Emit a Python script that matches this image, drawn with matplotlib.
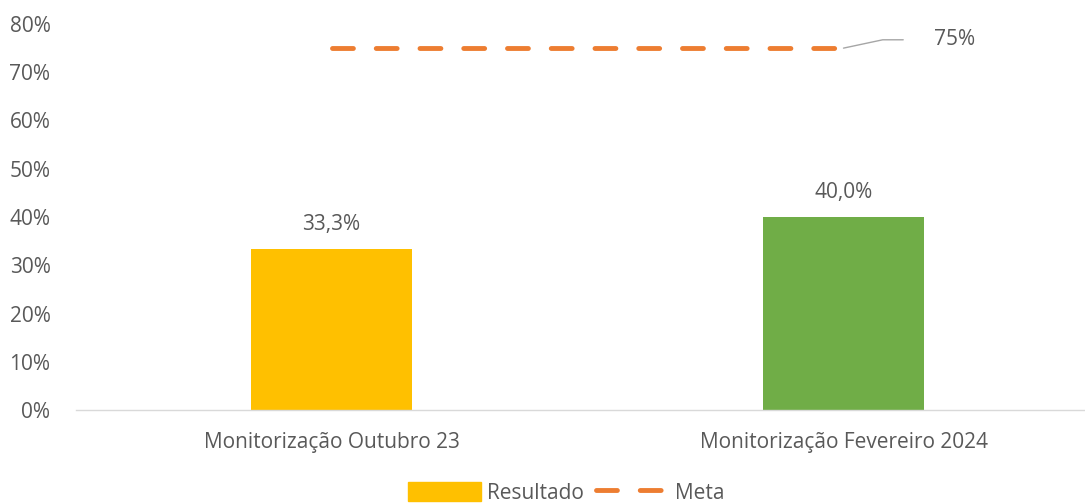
import matplotlib.pyplot as plt
from matplotlib.patches import Patch
from matplotlib.lines import Line2D

categories = ['Monitorização Outubro 23', 'Monitorização Fevereiro 2024']
resultado = [0.333, 0.400]
resultado_labels = ['33,3%', '40,0%']
meta = [0.75, 0.75]
bar_colors = ['#FFC000', '#70AD47']
ticks = [0, 0.1, 0.2, 0.3, 0.4, 0.5, 0.6, 0.7, 0.8]

plt.rcParams['font.family'] = ['Open Sans', 'DejaVu Sans']
txt = '#595959'
fs = 15
dash = (4.3, 4.7)

fig = plt.figure(figsize=(10.85, 5.04), dpi=100)
ax = fig.add_axes([75.5 / 1085, 1 - 410 / 504, 1024 / 1085, (410 - 24) / 504])

x = list(range(len(categories)))
bars = ax.bar(x, resultado, width=0.314, color=bar_colors)
for b, lab in zip(bars, resultado_labels):
    ax.annotate(lab, (b.get_x() + b.get_width() / 2, b.get_height()),
                xytext=(0, 10), textcoords='offset points',
                ha='center', va='bottom', fontsize=fs, color=txt)

ax.plot(x, meta, color='#ED7D31', lw=3.5, dashes=dash,
        dash_capstyle='round')
ax.annotate('75%', (x[-1], meta[-1]), xytext=(65, 6), textcoords='offset points',
            ha='left', va='center', fontsize=fs, color=txt,
            arrowprops=dict(arrowstyle='-', color='#A6A6A6', lw=1,
                            connectionstyle='angle,angleA=0,angleB=12,rad=0',
                            shrinkA=20, shrinkB=0, relpos=(0, 0.5)))

ax.set_xlim(-0.5, 1.5)
ax.set_ylim(0, 0.8)
ax.set_yticks(ticks)
ax.set_yticklabels([f'{int(round(t * 100))}%' for t in ticks])
ax.set_xticks(x)
ax.set_xticklabels(categories)
ax.tick_params(axis='both', length=0, labelsize=fs, colors=txt)
ax.tick_params(axis='x', pad=16)
ax.tick_params(axis='y', pad=18)
for s in ['top', 'right', 'left']:
    ax.spines[s].set_visible(False)
ax.spines['bottom'].set_color('#D9D9D9')
ax.spines['bottom'].set_linewidth(1)

handles = [Patch(color='#FFC000', label='Resultado'),
           Line2D([0], [0], color='#ED7D31', lw=3.5, dashes=dash,
                  dash_capstyle='round', label='Meta')]
fig.legend(handles=handles, loc='center', bbox_to_anchor=(0.522, 0.022), ncol=2,
           frameon=False, fontsize=fs, labelcolor=txt, handlelength=3.5,
           handleheight=1.0, columnspacing=0.6, handletextpad=0.3)

fig.savefig('out.png', dpi=100)
